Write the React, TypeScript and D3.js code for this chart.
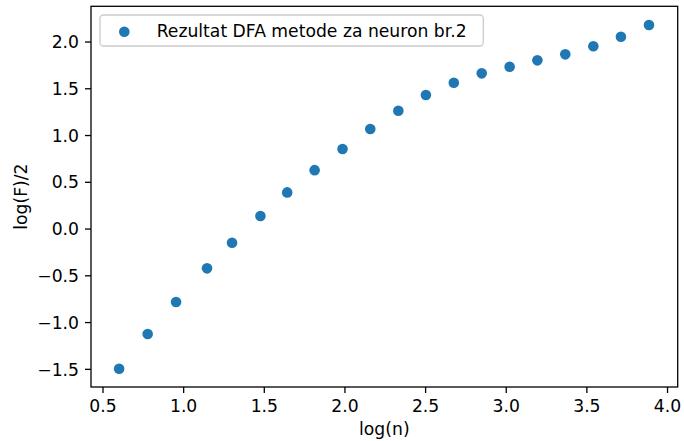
import React from "react";
import * as d3 from "d3";

const logN: number[] = [0.60, 0.777, 0.953, 1.145, 1.30, 1.476, 1.642, 1.812, 1.985, 2.157, 2.331, 2.502, 2.675, 2.848, 3.021, 3.193, 3.366, 3.54, 3.711, 3.885];
const logF: number[] = [-1.494, -1.122, -0.78, -0.42, -0.147, 0.14, 0.392, 0.63, 0.856, 1.07, 1.265, 1.433, 1.565, 1.665, 1.736, 1.804, 1.868, 1.954, 2.057, 2.182];
const xTicks: number[] = [0.5, 1.0, 1.5, 2.0, 2.5, 3.0, 3.5, 4.0];
const yTicks: number[] = [-1.5, -1.0, -0.5, 0.0, 0.5, 1.0, 1.5, 2.0];
const legendLabel = "Rezultat DFA metode za neuron br.2";
const xLabel = "log(n)";
const yLabel = "log(F)/2";

const W = 684;
const H = 441;
const L = 91, R = 677.7, T = 6.3, B = 387;
const FONT = "'DejaVu Sans', sans-serif";
const FS = 17.2;
const COLOR = "#1f77b4";

const fmt = (v: number) => {
  const s = v.toFixed(1);
  return v < 0 ? "\u2212" + s.slice(1) : s;
};

export default function App() {
  const x = d3.scaleLinear().domain([0.4256, 4.063]).range([L, R]);
  const y = d3.scaleLinear().domain([-1.689, 2.382]).range([B, T]);
  const tickLen = 6;
  const pad = 6;
  return (
    <svg width={W} height={H} style={{ position: "absolute", left: 0, top: 0, background: "#fff" }} fontFamily={FONT}>
      <rect x={0} y={0} width={W} height={H} fill="#fff" />
      {logN.map((v, i) => (
        <circle key={i} cx={x(v)} cy={y(logF[i])} r={5.3} fill={COLOR} />
      ))}
      <rect x={L} y={T} width={R - L} height={B - T} fill="none" stroke="#000" strokeWidth={1.3} />
      {xTicks.map((t) => (
        <g key={"x" + t}>
          <line x1={x(t)} x2={x(t)} y1={B} y2={B + tickLen} stroke="#000" strokeWidth={1.3} />
          <text x={x(t)} y={B + tickLen + pad + 12.6} textAnchor="middle" fontSize={FS} fill="#000">{fmt(t)}</text>
        </g>
      ))}
      {yTicks.map((t) => (
        <g key={"y" + t}>
          <line x1={L - tickLen} x2={L} y1={y(t)} y2={y(t)} stroke="#000" strokeWidth={1.3} />
          <text x={L - tickLen - pad} y={y(t) + 6.2} textAnchor="end" fontSize={FS} fill="#000">{fmt(t)}</text>
        </g>
      ))}
      <text x={(L + R) / 2} y={435} textAnchor="middle" fontSize={FS} fill="#000">{xLabel}</text>
      <text transform={`translate(${27},${(T + B) / 2}) rotate(-90)`} textAnchor="middle" fontSize={FS} fill="#000">{yLabel}</text>
      <g>
        <rect x={100} y={15} width={383.3} height={31} rx={3.5} ry={3.5} fill="#fff" fillOpacity={0.8} stroke="#cccccc" strokeWidth={1.3} />
        <circle cx={124.3} cy={31.7} r={5.3} fill={COLOR} />
        <text x={156.7} y={37} fontSize={FS} fill="#000">{legendLabel}</text>
      </g>
    </svg>
  );
}
